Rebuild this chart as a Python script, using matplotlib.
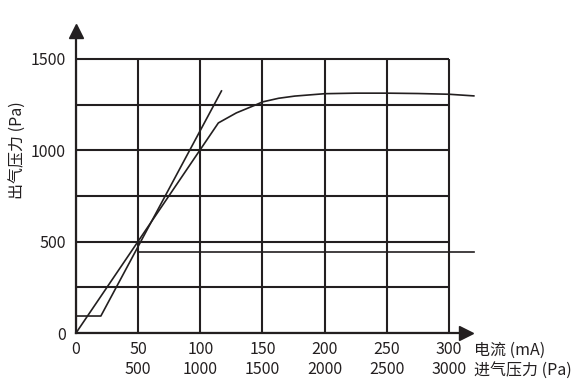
import matplotlib.pyplot as plt

plt.rcParams['font.family'] = ['Noto Sans CJK SC', 'DejaVu Sans']

# x ticks: current (mA) and inlet pressure (Pa)
current_ticks = [0, 50, 100, 150, 200, 250, 300]
inlet_labels = ['', '500', '1000', '1500', '2000', '2500', '3000']
pressure_grid = [0, 250, 500, 750, 1000, 1250, 1500]
pressure_labels = [0, 500, 1000, 1500]

# curve starting at origin, then levelling off
curve_a_x = [0, 114.5, 129, 145, 150, 163, 176, 200, 225, 250, 275, 300, 320]
curve_a_y = [0, 1150, 1205, 1250, 1265, 1285, 1297, 1310, 1313, 1313, 1311, 1307, 1298]
# curve with flat start then steep rise
curve_b_x = [0, 20, 117]
curve_b_y = [93, 93, 1325]
# horizontal line
curve_c_x = [49.5, 49.5, 320]
curve_c_y = [480, 442, 442]

ink = '#231f20'

fig = plt.figure(figsize=(5.8, 3.9), dpi=100)
ax = fig.add_axes([76 / 580, 1 - 333 / 390, (466 - 76) / 580, (333 - 30.5) / 390])
ax.set_xlim(0, 313.7)
ax.set_ylim(0, 1656)

# grid inside the box 0..300 x 0..1500
ax.vlines(current_ticks, 0, 1500, color=ink, lw=1.5, zorder=1)
ax.hlines(pressure_grid, 0, 300, color=ink, lw=1.5, zorder=1)

for xs, ys in [(curve_a_x, curve_a_y), (curve_b_x, curve_b_y), (curve_c_x, curve_c_y)]:
    ax.plot(xs, ys, color=ink, lw=1.2, clip_on=False, zorder=3)

for side in ['top', 'right']:
    ax.spines[side].set_visible(False)
for side in ['left', 'bottom']:
    ax.spines[side].set_color(ink)
    ax.spines[side].set_linewidth(1.6)
ax.set_xticks([])
ax.set_yticks([])

# arrow heads
ax.plot(1, 0, '>', color=ink, ms=10, transform=ax.get_yaxis_transform(), clip_on=False)
ax.plot(0, 1, '^', color=ink, ms=10, transform=ax.get_xaxis_transform(), clip_on=False)

fs = 11.5
for x, lab2 in zip(current_ticks, inlet_labels):
    ax.annotate(str(x), xy=(x, 0), xytext=(0, -15), textcoords='offset pixels',
                ha='center', va='center_baseline', fontsize=fs, color=ink)
    if lab2:
        ax.annotate(lab2, xy=(x, 0), xytext=(0, -35), textcoords='offset pixels',
                    ha='center', va='center_baseline', fontsize=fs, color=ink)
for v in pressure_labels:
    ax.annotate(str(v), xy=(0, v), xytext=(-10, 0), textcoords='offset pixels',
                ha='right', va='center_baseline', fontsize=fs, color=ink)

ax.annotate('电流 (mA)', xy=(300, 0), xytext=(25, -15), textcoords='offset pixels',
            ha='left', va='center_baseline', fontsize=fs, color=ink)
ax.annotate('进气压力 (Pa)', xy=(300, 0), xytext=(25, -35), textcoords='offset pixels',
            ha='left', va='center_baseline', fontsize=fs, color=ink)
fig.text(17 / 580, 1 - 150 / 390, '出气压力 (Pa)', rotation=90, ha='center', va='center',
         fontsize=fs, color=ink)

fig.savefig('out.png', dpi=100)
